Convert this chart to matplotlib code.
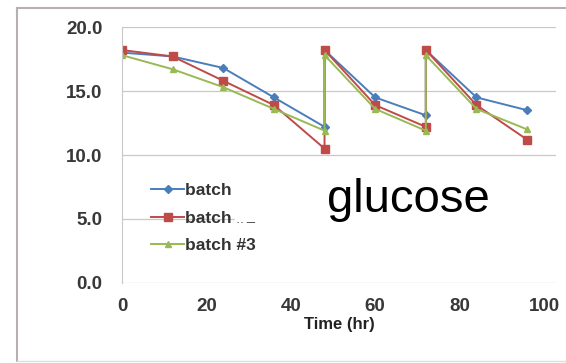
import matplotlib
matplotlib.use("Agg")
import matplotlib.pyplot as plt
from matplotlib.lines import Line2D
from matplotlib.patches import Rectangle

# time points (feeds at 48 and 72 hr give the vertical jumps)
time_hr = [0, 12, 24, 36, 48, 48, 60, 72, 72, 84, 96]
batch1 = [18.0, 17.7, 16.8, 14.5, 12.2, 18.2, 14.5, 13.1, 18.2, 14.5, 13.5]
batch2 = [18.2, 17.7, 15.8, 13.9, 10.5, 18.2, 13.9, 12.2, 18.2, 13.9, 11.2]
batch3 = [17.8, 16.7, 15.3, 13.6, 11.9, 17.8, 13.6, 11.9, 17.8, 13.6, 12.0]
labels = ["batch #1", "batch #2", "batch #3"]
yticks = [0, 5, 10, 15, 20]
xticks = [0, 20, 40, 60, 80, 100]

plt.rcParams["font.family"] = ["Liberation Sans", "DejaVu Sans"]

fig = plt.figure(figsize=(5.66, 3.63), dpi=100)
ax = fig.add_axes([0.2155, 0.2204, 0.7665, 0.7052])

ax.plot(time_hr, batch1, color="#4a7ebb", marker="D", markersize=4, lw=1.4, label=labels[0])
ax.plot(time_hr, batch2, color="#be4b48", marker="s", markersize=6, lw=1.4, label=labels[1])
ax.plot(time_hr, batch3, color="#98b954", marker="^", markersize=5, lw=1.4, label=labels[2])

ax.set_xlim(0, 102.8)
ax.set_ylim(0, 20)
ax.set_yticks(yticks)
ax.set_yticklabels(["%.1f" % v for v in yticks])
ax.set_xticks(xticks)
ax.grid(axis="y", color="#c8c8c8", lw=0.9)
ax.set_axisbelow(True)
for s in ["top", "right", "bottom"]:
    ax.spines[s].set_visible(False)
ax.spines["left"].set_color("#c8c8c8")
ax.tick_params(length=0, labelsize=13.5, colors="#383838")
ax.tick_params(axis="y", pad=14)
ax.tick_params(axis="x", pad=11)
for t in ax.get_xticklabels() + ax.get_yticklabels():
    t.set_fontweight("bold")
ax.set_xlabel("Time (hr)", fontsize=12, fontweight="bold", color="#222222", labelpad=1)

leg = ax.legend(loc="lower left", bbox_to_anchor=(0.032, 0.055), frameon=False,
                fontsize=12.5, handlelength=1.85, handletextpad=0.1, labelspacing=0.72)
for t in leg.get_texts():
    t.set_fontweight("bold")
    t.set_color("#333333")

# outer screenshot frame
fig.add_artist(Line2D([16.5 / 566, 16.5 / 566], [0.005, 1 - 8 / 363], color="#b8b0b0", lw=1.5))
fig.add_artist(Line2D([16.5 / 566, 1], [1 - 8 / 363, 1 - 8 / 363], color="#b8b0b0", lw=1.5))
fig.add_artist(Line2D([16.5 / 566, 1], [0.005, 0.005], color="#dddddd", lw=1))

# white overlay with label
fig.add_artist(Rectangle((235 / 566, 1 - 221 / 363), 320 / 566, 46 / 363,
                         transform=fig.transFigure, color="white", zorder=5))
fig.text(408 / 566, 1 - 212 / 363, "glucose", fontsize=34,
         ha="center", va="baseline", zorder=6)

fig.savefig("out.png", dpi=100)
